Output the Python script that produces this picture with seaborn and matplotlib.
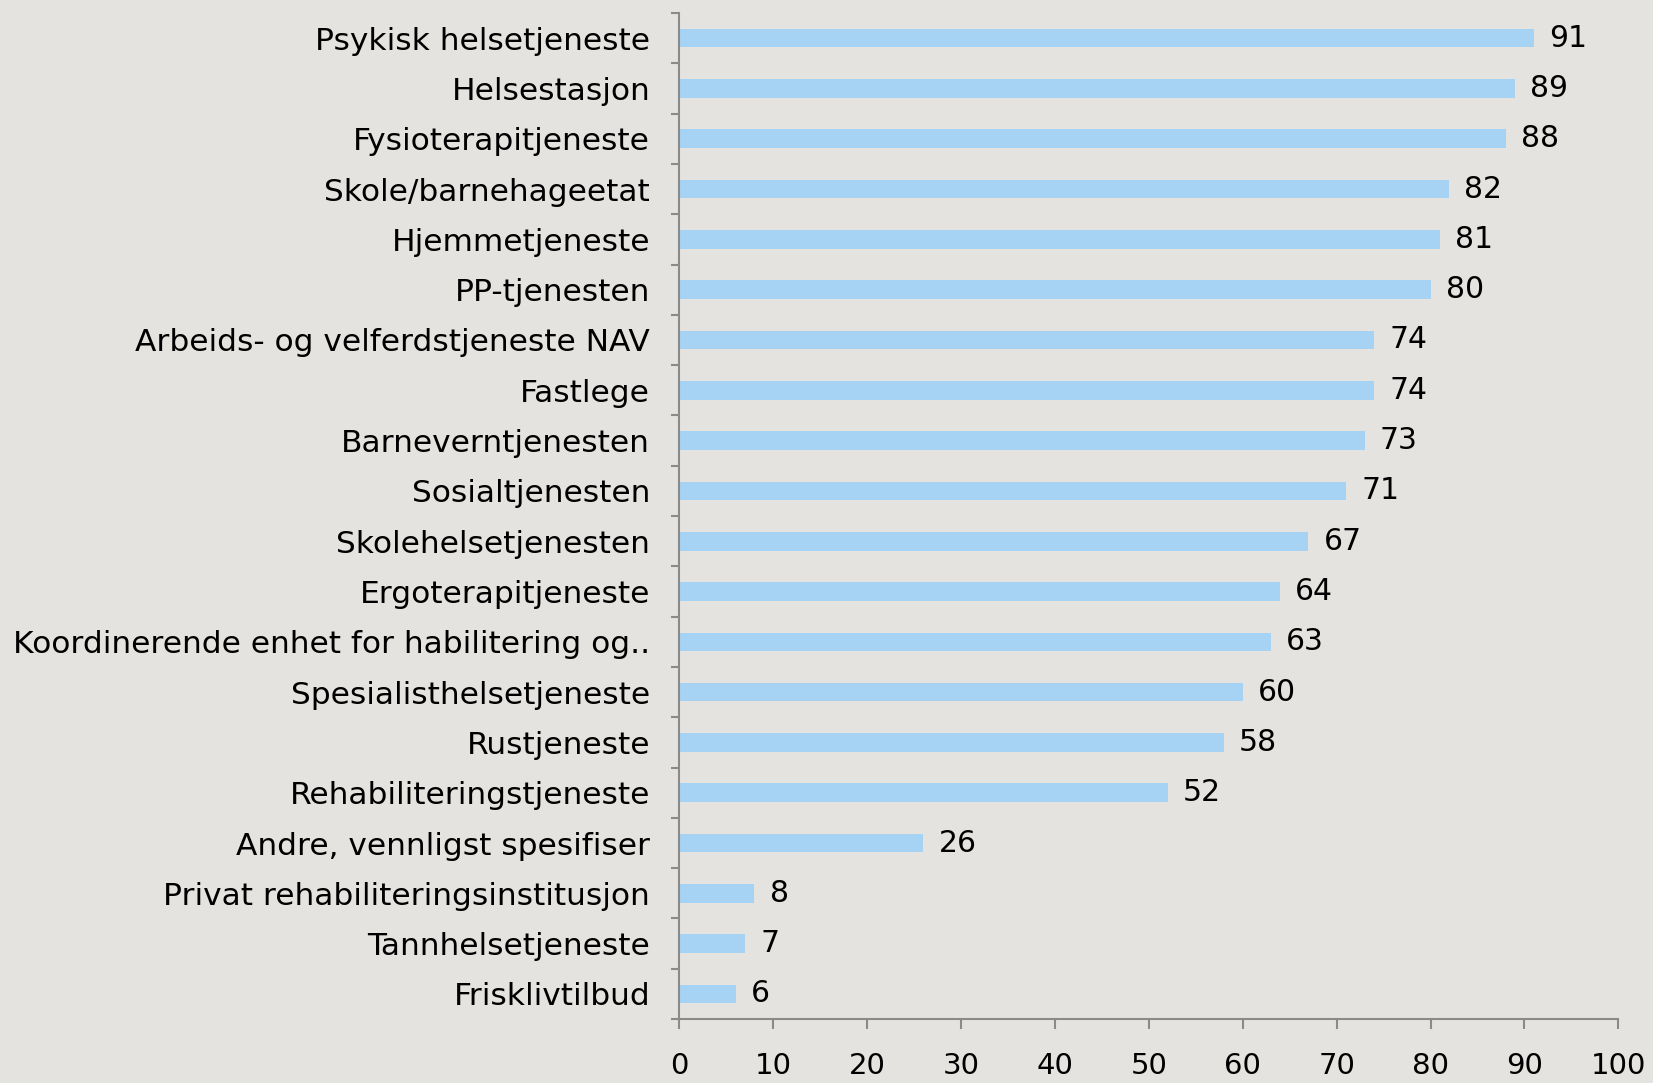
import matplotlib
matplotlib.use("Agg")
import matplotlib.pyplot as plt
import seaborn as sns
import pandas as pd
import numpy as np

# data (percent), top to bottom
categories = [
    "Psykisk helsetjeneste",
    "Helsestasjon",
    "Fysioterapitjeneste",
    "Skole/barnehageetat",
    "Hjemmetjeneste",
    "PP-tjenesten",
    "Arbeids- og velferdstjeneste NAV",
    "Fastlege",
    "Barneverntjenesten",
    "Sosialtjenesten",
    "Skolehelsetjenesten",
    "Ergoterapitjeneste",
    "Koordinerende enhet for habilitering og..",
    "Spesialisthelsetjeneste",
    "Rustjeneste",
    "Rehabiliteringstjeneste",
    "Andre, vennligst spesifiser",
    "Privat rehabiliteringsinstitusjon",
    "Tannhelsetjeneste",
    "Frisklivtilbud",
]
values = [91, 89, 88, 82, 81, 80, 74, 74, 73, 71, 67, 64, 63, 60, 58, 52, 26, 8, 7, 6]
xticks = list(range(0, 101, 10))

bg = "#E5E3DF"
bar_color = "#A6D2F4"
axis_gray = "#8A8A8A"

sns.set_theme(style="white")
plt.rcParams["font.family"] = ["DejaVu Sans"]

df = pd.DataFrame({"kategori": categories, "verdi": values})

fig = plt.figure(figsize=(16.53, 10.83), dpi=100, facecolor=bg)
ax = fig.add_axes([0.411, 0.059, 0.568, 0.929])
ax.set_facecolor(bg)

sns.barplot(data=df, x="verdi", y="kategori", orient="h", color=bar_color,
            saturation=1, width=0.37, linewidth=0, ax=ax)

# value labels
for i, v in enumerate(values):
    ax.text(v + 1.6, i, str(v), va="center", ha="left", fontsize=21.5, color="black")

ax.set_xlim(0, 100)
ax.set_ylim(len(categories) - 0.5, -0.5)
ax.set_xticks(xticks)
ax.set_xticklabels([str(t) for t in xticks])
ax.set_xlabel("")
ax.set_ylabel("")

# ticks between categories on the y axis
ax.set_yticks(np.arange(-0.5, len(categories), 1.0), minor=True)
ax.tick_params(axis="y", which="major", length=0, pad=21, labelsize=22.5, labelcolor="black")
ax.tick_params(axis="y", which="minor", length=6, width=1.5, color=axis_gray, direction="out", left=True)
ax.tick_params(axis="x", which="major", length=7, width=1.5, color=axis_gray, direction="out",
               bottom=True, pad=17, labelsize=21, labelcolor="black")

for side in ["top", "right"]:
    ax.spines[side].set_visible(False)
for side in ["left", "bottom"]:
    ax.spines[side].set_color(axis_gray)
    ax.spines[side].set_linewidth(1.5)

fig.savefig("out.png", dpi=100, facecolor=bg)
